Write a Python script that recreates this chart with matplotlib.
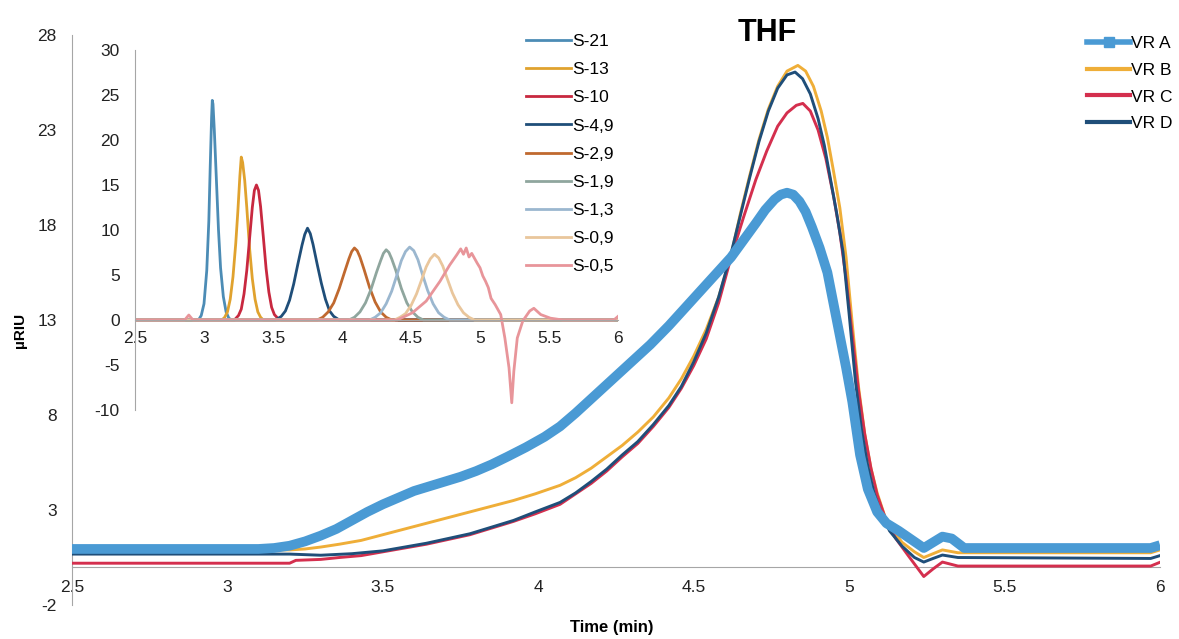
import matplotlib.pyplot as plt
from matplotlib.lines import Line2D

# ---------------------------------------------------------------------
# Data (time in min, signal in uRIU)
# ---------------------------------------------------------------------

# main plot: VR A..D
vra_t = [2.5, 3.10, 3.15, 3.20, 3.25, 3.30, 3.35, 3.40, 3.45, 3.50, 3.55, 3.60, 3.65, 3.70,
         3.75, 3.80, 3.85, 3.90, 3.96, 4.02, 4.07, 4.12, 4.18, 4.24, 4.30, 4.36, 4.42, 4.47,
         4.52, 4.57, 4.62, 4.66, 4.70, 4.73, 4.76, 4.78, 4.80, 4.82, 4.84, 4.86, 4.88, 4.905,
         4.93, 4.96, 4.99, 5.01, 5.035, 5.06, 5.09, 5.12, 5.16, 5.20, 5.24, 5.27, 5.30, 5.33,
         5.37, 5.97, 6.0]
vra_y = [0.95, 0.95, 1.0, 1.12, 1.35, 1.65, 2.0, 2.45, 2.9, 3.3, 3.65, 4.0, 4.25, 4.5,
         4.75, 5.05, 5.4, 5.8, 6.3, 6.85, 7.4, 8.1, 9.0, 9.9, 10.8, 11.7, 12.7, 13.6,
         14.5, 15.4, 16.3, 17.2, 18.1, 18.8, 19.35, 19.6, 19.7, 19.6, 19.25, 18.7, 17.9, 16.8,
         15.5, 13.0, 10.5, 8.7, 5.9, 4.1, 2.9, 2.3, 1.9, 1.45, 1.0, 1.3, 1.6, 1.5,
         1.0, 1.0, 1.15]

vrb_t = [2.5, 3.20, 3.25, 3.30, 3.36, 3.43, 3.50, 3.57, 3.64, 3.71, 3.78, 3.85, 3.92, 3.99,
         4.07, 4.12, 4.17, 4.22, 4.27, 4.32, 4.37, 4.42, 4.46, 4.50, 4.54, 4.58, 4.62, 4.65,
         4.68, 4.71, 4.74, 4.77, 4.80, 4.835, 4.86, 4.885, 4.91, 4.93, 4.95, 4.97, 4.99, 5.01,
         5.03, 5.05, 5.07, 5.09, 5.12, 5.17, 5.21, 5.24, 5.30, 5.35, 5.97, 6.0]
vrb_y = [0.9, 0.9, 0.95, 1.05, 1.2, 1.4, 1.7, 2.0, 2.3, 2.6, 2.9, 3.2, 3.5, 3.85,
         4.3, 4.7, 5.2, 5.8, 6.4, 7.1, 7.9, 8.9, 9.9, 11.1, 12.5, 14.2, 16.4, 18.6,
         20.6, 22.5, 24.1, 25.3, 26.1, 26.4, 26.1, 25.3, 24.0, 22.6, 20.8, 18.9, 16.3, 12.8,
         9.5, 7.0, 5.2, 3.9, 2.4, 1.3, 0.8, 0.5, 0.9, 0.75, 0.75, 0.9]

vrc_t = [2.5, 3.20, 3.22, 3.30, 3.36, 3.43, 3.50, 3.57, 3.64, 3.71, 3.78, 3.85, 3.92, 3.99,
         4.07, 4.12, 4.17, 4.22, 4.27, 4.32, 4.37, 4.42, 4.46, 4.50, 4.54, 4.58, 4.62, 4.66,
         4.70, 4.735, 4.77, 4.80, 4.83, 4.851, 4.875, 4.90, 4.925, 4.95, 4.97, 4.99, 5.01, 5.03,
         5.05, 5.07, 5.09, 5.12, 5.15, 5.19, 5.24, 5.27, 5.30, 5.35, 5.97, 6.0]
vrc_y = [0.2, 0.2, 0.35, 0.4, 0.5, 0.6, 0.8, 1.0, 1.2, 1.45, 1.7, 2.05, 2.4, 2.8,
         3.3, 3.85, 4.4, 5.05, 5.8, 6.5, 7.4, 8.4, 9.4, 10.6, 12.0, 13.9, 16.3, 18.4,
         20.4, 21.9, 23.2, 23.9, 24.3, 24.4, 24.0, 23.0, 21.5, 19.5, 17.6, 15.2, 12.2, 9.3,
         7.0, 5.2, 3.8, 2.4, 1.5, 0.6, -0.5, -0.1, 0.26, 0.05, 0.05, 0.25]

vrd_t = [2.5, 3.20, 3.30, 3.40, 3.50, 3.57, 3.64, 3.71, 3.78, 3.85, 3.92, 3.99, 4.07, 4.12,
         4.17, 4.22, 4.27, 4.32, 4.37, 4.42, 4.46, 4.50, 4.54, 4.58, 4.62, 4.65, 4.68, 4.71,
         4.74, 4.77, 4.80, 4.826, 4.85, 4.875, 4.90, 4.92, 4.94, 4.96, 4.98, 5.00, 5.02, 5.04,
         5.06, 5.08, 5.10, 5.13, 5.17, 5.21, 5.24, 5.27, 5.30, 5.35, 5.97, 6.0]
vrd_y = [0.68, 0.68, 0.62, 0.7, 0.85, 1.05, 1.25, 1.5, 1.75, 2.1, 2.45, 2.9, 3.4, 3.9,
         4.5, 5.15, 5.9, 6.6, 7.5, 8.5, 9.5, 10.8, 12.3, 14.2, 16.5, 18.5, 20.5, 22.4,
         24.0, 25.2, 25.9, 26.05, 25.7, 24.9, 23.6, 22.2, 20.4, 18.6, 16.6, 13.3, 9.8, 7.2,
         5.3, 3.9, 2.9, 1.9, 1.1, 0.5, 0.26, 0.45, 0.63, 0.5, 0.45, 0.6]

# inset: standards
s21_t = [2.5, 2.96, 2.98, 3.00, 3.02, 3.035, 3.045, 3.055, 3.06, 3.065, 3.075, 3.09, 3.105,
         3.12, 3.14, 3.16, 3.18, 3.20, 6.0]
s21_y = [0, 0, 0.5, 1.8, 5.5, 11.0, 17.0, 22.5, 24.4, 24.0, 21.0, 15.5, 10.0,
         5.8, 2.6, 0.9, 0.2, 0, 0]

s13_t = [2.5, 3.13, 3.15, 3.17, 3.19, 3.21, 3.23, 3.245, 3.26, 3.27, 3.28, 3.295, 3.31, 3.33,
         3.35, 3.37, 3.39, 3.41, 3.43, 6.0]
s13_y = [0, 0, 0.3, 0.9, 2.3, 4.8, 8.5, 12.0, 16.0, 18.1, 17.5, 15.5, 12.5, 8.0,
         4.6, 2.3, 0.9, 0.3, 0, 0]

s10_t = [2.5, 3.22, 3.25, 3.27, 3.29, 3.31, 3.33, 3.35, 3.365, 3.38, 3.395, 3.41, 3.43, 3.45,
         3.47, 3.49, 3.51, 3.54, 3.56, 6.0]
s10_y = [0, 0, 0.5, 1.2, 2.9, 5.5, 9.0, 12.5, 14.4, 15.0, 14.4, 12.6, 9.2, 5.7,
         3.1, 1.4, 0.6, 0.1, 0, 0]

s49_t = [2.5, 3.52, 3.56, 3.59, 3.62, 3.65, 3.68, 3.71, 3.73, 3.75, 3.77, 3.79, 3.82, 3.85,
         3.88, 3.91, 3.94, 3.98, 6.0]
s49_y = [0, 0, 0.4, 1.0, 2.2, 4.0, 6.2, 8.3, 9.5, 10.2, 9.6, 8.4, 6.2, 4.1,
         2.3, 1.0, 0.4, 0, 0]

s29_t = [2.5, 3.82, 3.86, 3.90, 3.94, 3.98, 4.02, 4.05, 4.07, 4.09, 4.11, 4.13, 4.16, 4.20,
         4.24, 4.28, 4.32, 4.36, 6.0]
s29_y = [0, 0, 0.3, 0.9, 1.9, 3.5, 5.4, 6.8, 7.6, 8.0, 7.7, 7.0, 5.6, 3.6,
         2.0, 0.9, 0.3, 0, 0]

s19_t = [2.5, 4.05, 4.09, 4.13, 4.17, 4.21, 4.25, 4.28, 4.30, 4.32, 4.34, 4.36, 4.39, 4.43,
         4.47, 4.51, 4.55, 4.59, 6.0]
s19_y = [0, 0, 0.3, 0.9, 1.9, 3.4, 5.3, 6.6, 7.4, 7.8, 7.5, 6.8, 5.5, 3.5,
         1.9, 0.9, 0.3, 0, 0]

s13b_t = [2.5, 4.20, 4.24, 4.28, 4.32, 4.36, 4.40, 4.43, 4.46, 4.49, 4.52, 4.55, 4.58, 4.62,
          4.66, 4.70, 4.74, 4.78, 6.0]
s13b_y = [0, 0, 0.3, 0.8, 1.8, 3.2, 5.1, 6.6, 7.6, 8.1, 7.7, 6.7, 5.2, 3.3,
          1.8, 0.8, 0.3, 0, 0]

s09_t = [2.5, 4.38, 4.42, 4.46, 4.50, 4.54, 4.58, 4.61, 4.64, 4.67, 4.70, 4.73, 4.76, 4.80,
         4.84, 4.88, 4.92, 4.96, 6.0]
s09_y = [0, 0, 0.3, 0.7, 1.6, 2.9, 4.6, 5.9, 6.8, 7.3, 6.9, 6.0, 4.7, 3.0,
         1.7, 0.8, 0.3, 0, 0]

s05_t = [2.5, 2.86, 2.89, 2.92, 4.40, 4.51, 4.61, 4.71, 4.78, 4.83, 4.86, 4.88, 4.90, 4.92,
         4.94, 4.98, 5.00, 5.02, 5.04, 5.06, 5.08, 5.11, 5.15, 5.18, 5.21, 5.23, 5.245, 5.27,
         5.31, 5.36, 5.39, 5.44, 5.51, 5.60, 5.97, 6.0]
s05_y = [0, 0, 0.55, 0, 0, 0.8, 2.1, 4.3, 6.1, 7.2, 7.9, 7.3, 8.0, 7.0,
         7.4, 6.3, 5.8, 4.9, 4.3, 3.6, 2.4, 1.7, 0.6, -2.0, -5.3, -9.2, -5.7, -2.0,
         -0.1, 1.0, 1.3, 0.6, 0.2, 0, 0, 0.4]

main_xticks = [2.5, 3, 3.5, 4, 4.5, 5, 5.5, 6]
main_xtick_labels = ['2.5', '3', '3.5', '4', '4.5', '5', '5.5', '6']
main_yticks = [-2, 3, 8, 13, 18, 23, 28]
inset_yticks = [-10, -5, 0, 5, 10, 15, 20, 25, 30]

plt.rcParams['font.family'] = ['Liberation Sans', 'DejaVu Sans']
plt.rcParams['axes.unicode_minus'] = False

axis_grey = '#A6A6A6'

fig = plt.figure(figsize=(11.79, 6.39), dpi=100)

#---------------------------------------------------------------------
# Main chromatogram
#---------------------------------------------------------------------
ax = fig.add_axes([0.0611, 0.0532, 0.9228, 0.892])
ax.patch.set_alpha(0)

ax.plot(vrb_t, vrb_y, color='#EFAE38', linewidth=2.1, zorder=3)
ax.plot(vrc_t, vrc_y, color='#D42F4E', linewidth=2.1, zorder=3)
ax.plot(vrd_t, vrd_y, color='#1F4E79', linewidth=2.1, zorder=3)
ax.plot(vra_t, vra_y, color='#4A9AD4', linewidth=7, solid_capstyle='butt',
        solid_joinstyle='round', zorder=4)

ax.set_xlim(2.5, 6)
ax.set_ylim(-2, 28)
ax.set_xticks(main_xticks)
ax.set_xticklabels(main_xtick_labels)
ax.set_yticks(main_yticks)
ax.tick_params(axis='both', length=0, labelsize=12.5, colors='#222222')
ax.tick_params(axis='x', pad=9)
ax.tick_params(axis='y', pad=11)
for side in ['top', 'right']:
    ax.spines[side].set_visible(False)
ax.spines['bottom'].set_position(('data', 0))
ax.spines['bottom'].set_color(axis_grey)
ax.spines['left'].set_color(axis_grey)
ax.spines['bottom'].set_zorder(1)

fig.text(0.519, 0.018, 'Time (min)', ha='center', va='center', fontsize=12, fontweight='bold')
fig.text(0.017, 0.483, 'µRIU', ha='center', va='center', rotation=90, fontsize=11, fontweight='bold')
fig.text(0.651, 0.949, 'THF', ha='center', va='center', fontsize=22, fontweight='bold')

main_handles = [
    Line2D([], [], color='#4A9AD4', linewidth=4, marker='s', markersize=7),
    Line2D([], [], color='#EFAE38', linewidth=3),
    Line2D([], [], color='#D42F4E', linewidth=3),
    Line2D([], [], color='#1F4E79', linewidth=3),
]
fig.legend(main_handles, ['VR A', 'VR B', 'VR C', 'VR D'], loc='upper left',
           bbox_to_anchor=(0.922, 0.944), frameon=False, fontsize=12.5,
           handlelength=2.5, handletextpad=0.05, labelspacing=0.67,
           borderpad=0, borderaxespad=0)

#---------------------------------------------------------------------
# Inset: standards
#---------------------------------------------------------------------
ax_in = fig.add_axes([0.1145, 0.3584, 0.4097, 0.5634])
ax_in.patch.set_alpha(0)

inset_series = [
    (s21_t, s21_y, '#4C8CB5', 'S-21'),
    (s13_t, s13_y, '#E0A22E', 'S-13'),
    (s10_t, s10_y, '#C8283F', 'S-10'),
    (s49_t, s49_y, '#1F4E79', 'S-4,9'),
    (s29_t, s29_y, '#C0692F', 'S-2,9'),
    (s19_t, s19_y, '#8FA69E', 'S-1,9'),
    (s13b_t, s13b_y, '#9BB7CF', 'S-1,3'),
    (s09_t, s09_y, '#E9C69C', 'S-0,9'),
    (s05_t, s05_y, '#E8959A', 'S-0,5'),
]
inset_lines = []
for t, y, col, lab in inset_series:
    line, = ax_in.plot(t, y, color=col, linewidth=2.0, label=lab)
    inset_lines.append(line)

ax_in.set_xlim(2.5, 6)
ax_in.set_ylim(-10, 30)
ax_in.set_xticks(main_xticks)
ax_in.set_xticklabels(main_xtick_labels)
ax_in.set_yticks(inset_yticks)
ax_in.tick_params(axis='both', length=0, labelsize=12.5, colors='#222222')
ax_in.tick_params(axis='x', pad=8)
ax_in.tick_params(axis='y', pad=11)
for side in ['top', 'right']:
    ax_in.spines[side].set_visible(False)
ax_in.spines['bottom'].set_position(('data', 0))
ax_in.spines['bottom'].set_color(axis_grey)
ax_in.spines['left'].set_color(axis_grey)

fig.legend(inset_lines, [s[3] for s in inset_series], loc='upper left',
           bbox_to_anchor=(0.446, 0.947), frameon=False, fontsize=12.5,
           handlelength=2.6, handletextpad=0.05, labelspacing=0.75,
           borderpad=0, borderaxespad=0)

fig.savefig('out.png', dpi=100, facecolor='white')
